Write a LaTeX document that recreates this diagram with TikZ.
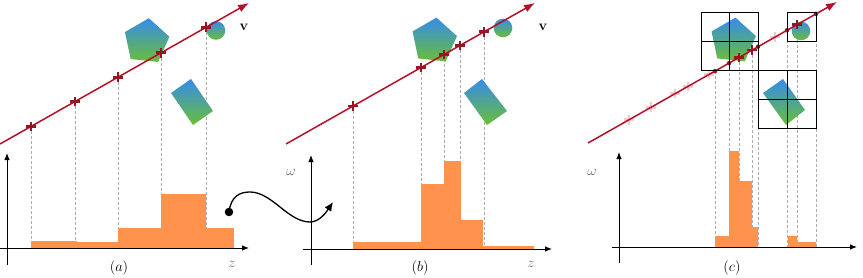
\documentclass[tikz,border=0pt]{standalone}
\usetikzlibrary{shapes.geometric,arrows.meta,calc}
\definecolor{barc}{RGB}{255,146,77}
\definecolor{linec}{RGB}{180,16,40}
\definecolor{mkc}{RGB}{150,22,35}
\definecolor{pinkc}{RGB}{244,200,205}
\definecolor{blu}{RGB}{55,140,235}
\definecolor{grn}{RGB}{105,190,55}
\newcommand\mymark[2]{\draw[#1] ([xshift=-4.8pt]#2) -- ([xshift=4.8pt]#2) ([yshift=-4.8pt]#2) -- ([yshift=4.8pt]#2);}
\begin{document}
\begin{tikzpicture}[x=1pt,y=-1pt,
  axisline/.style={line width=0.9pt,-{Latex[length=7pt,width=5.5pt]}},
  vline/.style={linec,line width=1.5pt,-{Latex[length=11pt,width=8pt]}},
  proj/.style={gray!65,line width=0.5pt,dash pattern=on 3pt off 2pt},
  barfill/.style={fill=barc,draw=none},
  shp/.style={top color=blu,bottom color=grn,draw=none},
  mk/.style={mkc,line width=2.8pt},
  pmk/.style={pinkc,line width=2.8pt},
  gridbox/.style={black,line width=0.8pt},
  dotc/.style={circle,fill=mkc,inner sep=0pt,minimum size=4.5pt},
  panellbl/.style={font=\fontsize{15}{17}\selectfont},
  axlbl/.style={text=black!60,font=\fontsize{14}{16}\selectfont},
  vlbl/.style={font=\fontsize{14}{16}\selectfont}]
\useasboundingbox (0,0) rectangle (863,278);

%% ---------------- Panel (a) ----------------
\coordinate (xa) at (0,248);
\coordinate (a1) at (31,126.4);
\coordinate (a2) at (75,101.5);
\coordinate (a3) at (118,77.2);
\coordinate (a4) at (161,52.8);
\coordinate (a5) at (206,27.3);
\foreach \p in {a1,a2,a3,a4,a5} {\draw[proj] (\p) -- (\p |- xa);}
\node[regular polygon,regular polygon sides=5,minimum size=47pt,inner sep=0pt,rotate=-6,shp] (pa) at (146.4,41.6) {};
\path[shp] (216,30.5) circle (9.3pt);
\path[shp] (191,79) -- (171,93) -- (193,125) -- (213,111) -- cycle;
\foreach \x/\xx/\t in {31/77/241,77/118/242,118/161/228,161/206/194,206/234/228}
  {\fill[barfill] (\x,\t) rectangle (\xx,248);}
\coordinate (la0) at (0,144);
\coordinate (la1) at (249,3);
\draw[vline] (la0) -- (la1);
\foreach \p in {a1,a2,a3,a4,a5} {\mymark{mk}{\p}}
\coordinate (axa0) at (0,248); \coordinate (axa1) at (249,248);
\coordinate (aya0) at (7,265); \coordinate (aya1) at (7,153);
\draw[axisline] (axa0) -- (axa1);
\draw[axisline] (aya0) -- (aya1);
\node[panellbl] (lbla) at (119,268) {$(a)$};
\node[axlbl] (za) at (232,264) {$z$};
\node[vlbl] (va) at (244,27) {$\mathbf{v}$};

%% curved connector
\node[circle,fill=black,inner sep=0pt,minimum size=8.5pt] (src) at (229,212) {};
\coordinate (dst) at (333,202);
\draw[line width=1.3pt,-{Latex[length=9pt,width=8pt]}] (src.center) .. controls (231,196) and (240,192) .. (250,192)
  .. controls (272,192) and (288,222) .. (310,222) .. controls (320,222) and (327,211) .. (dst);

%% ---------------- Panel (b) ----------------
\coordinate (xb) at (0,249);
\coordinate (b1) at (353,106.1);
\coordinate (b2) at (421,67.5);
\coordinate (b3) at (444,54.5);
\coordinate (b4) at (460,45.5);
\coordinate (b5) at (484,31.9);
\foreach \p in {b1,b2,b3,b4,b5} {\draw[proj] (\p) -- (\p |- xb);}
\node[regular polygon,regular polygon sides=5,minimum size=47pt,inner sep=0pt,rotate=-6,shp] (pb) at (434,41) {};
\path[shp] (503,28) circle (9.3pt);
\path[shp] (482,79) -- (464,93) -- (487,125) -- (507,111) -- cycle;
\foreach \x/\xx/\t in {353/421/242,421/444/184,444/461/161,461/483/220,483/534/246}
  {\fill[barfill] (\x,\t) rectangle (\xx,249);}
\coordinate (lb0) at (286,144);
\coordinate (lb1) at (535,3);
\draw[vline] (lb0) -- (lb1);
\foreach \p in {b1,b2,b3,b4,b5} {\mymark{mk}{\p}}
\coordinate (axb0) at (303,249); \coordinate (axb1) at (552,249);
\coordinate (ayb0) at (311,265); \coordinate (ayb1) at (311,155);
\draw[axisline] (axb0) -- (axb1);
\draw[axisline] (ayb0) -- (ayb1);
\node[panellbl] (lblb) at (420,268) {$(b)$};
\node[axlbl] (zb) at (531,264) {$z$};
\node[axlbl] (wb) at (291,172) {$\omega$};
\node[vlbl] (vb) at (543,27) {$\mathbf{v}$};

%% ---------------- Panel (c) ----------------
\coordinate (xc) at (0,247);
\coordinate (c1) at (715,71.1);
\coordinate (c2) at (729,63.2);
\coordinate (c3) at (739,57.5);
\coordinate (c4) at (752,50.1);
\coordinate (c5) at (758,46.7);
\coordinate (c6) at (787,30.3);
\coordinate (c7) at (797,24.6);
\coordinate (c8) at (816,13.9);
\foreach \p in {c1,c2,c3,c4,c5,c6,c7,c8} {\draw[proj] (\p) -- (\p |- xc);}
\node[regular polygon,regular polygon sides=5,minimum size=47pt,inner sep=0pt,rotate=-6,shp] (pc) at (733,41) {};
\path[shp] (801,31) circle (9.3pt);
\path[shp] (783,79) -- (763,93) -- (786,125) -- (805,110) -- cycle;
\foreach \x/\xx/\t in {715/729/236,729/739/151,739/752/181,752/758/227,788/797/236,797/816/242}
  {\fill[barfill] (\x,\t) rectangle (\xx,247);}
\coordinate (p1) at (629,119.8);
\coordinate (p2) at (651,107.3);
\coordinate (p3) at (675,93.7);
\coordinate (p4) at (688,86.4);
\coordinate (p5) at (709,74.5);
\coordinate (p6) at (775,37.1);
\foreach \p in {p1,p2,p3,p4,p5,p6} {\mymark{pmk}{\p}}
\coordinate (lc0) at (588,143);
\coordinate (lc1) at (837,2);
\draw[vline] (lc0) -- (lc1);
\foreach \p in {c1,c2,c5,c6,c8} {\node[dotc] (d\p) at (\p) {};}
\foreach \p in {c3,c4,c7} {\mymark{mk}{\p}}
% grid boxes
\draw[gridbox] (701,12) rectangle (758,70);
\draw[gridbox] (729.5,12) -- (729.5,70) (701,41) -- (758,41);
\draw[gridbox] (787,12) rectangle (816,41);
\draw[gridbox] (758,70) rectangle (816,128);
\draw[gridbox] (787,70) -- (787,128) (758,99) -- (816,99);
\coordinate (axc0) at (612,247); \coordinate (axc1) at (857,247);
\coordinate (ayc0) at (619,263); \coordinate (ayc1) at (619,152);
\draw[axisline] (axc0) -- (axc1);
\draw[axisline] (ayc0) -- (ayc1);
\node[panellbl] (lblc) at (732,268) {$(c)$};
\node[axlbl] (wc) at (592,172) {$\omega$};
\end{tikzpicture}
\end{document}
